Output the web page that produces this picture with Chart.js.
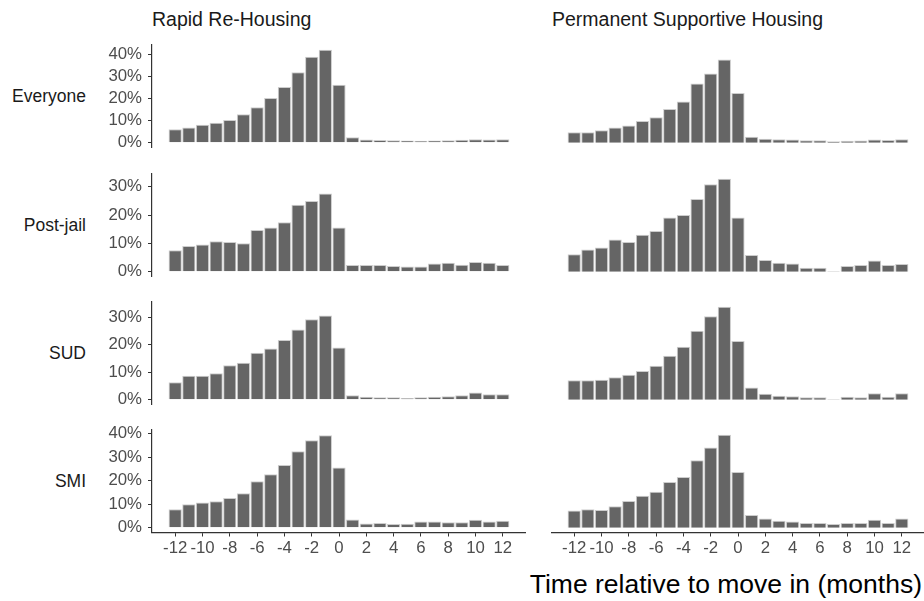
<!DOCTYPE html>
<html>
<head>
<meta charset="utf-8">
<title>Time relative to move in</title>
<script src="https://cdn.jsdelivr.net/npm/chart.js@4.4.1/dist/chart.umd.min.js"></script>
<style>
  html, body {
    margin: 0;
    padding: 0;
    width: 924px;
    height: 601px;
    overflow: hidden;
    background: #ffffff;
    font-family: "Liberation Sans", Arial, sans-serif;
  }
  canvas { position: absolute; }
  .lbl { position: absolute; white-space: nowrap; line-height: 1; }
  .col { font-size: 19.5px; color: #1a1a1a; }
  .row { font-size: 17.5px; color: #1a1a1a; left: 0; width: 86px; text-align: right; }
  .xtitle { font-size: 26.5px; color: #000; left: 0; width: 922px; text-align: right; top: 571px; }
</style>
</head>
<body>

<div class="lbl col" style="left:152px; top:10px;">Rapid Re-Housing</div>
<div class="lbl col" style="left:552px; top:10px;">Permanent Supportive Housing</div>
<div class="lbl row" id="row0">Everyone</div>
<div class="lbl row" id="row1">Post-jail</div>
<div class="lbl row" id="row2">SUD</div>
<div class="lbl row" id="row3">SMI</div>
<div class="lbl xtitle">Time relative to move in (months)</div>

<canvas id="c00"></canvas>
<canvas id="c01"></canvas>
<canvas id="c10"></canvas>
<canvas id="c11"></canvas>
<canvas id="c20"></canvas>
<canvas id="c21"></canvas>
<canvas id="c30"></canvas>
<canvas id="c31"></canvas>

<script>
// months relative to move in
var months = [-12, -11, -10, -9, -8, -7, -6, -5, -4, -3, -2, -1, 0, 1, 2, 3, 4, 5, 6, 7, 8, 9, 10, 11, 12];
var xTicks = [-12, -10, -8, -6, -4, -2, 0, 2, 4, 6, 8, 10, 12];

// percent of people, one list per panel
var rrhEveryone = [6.1, 6.9, 8.2, 9.0, 10.3, 12.9, 16.0, 20.2, 25.2, 31.8, 38.8, 42.0, 26.2, 2.5, 1.5, 1.3, 1.2, 1.1, 0.9, 1.1, 1.2, 1.4, 1.6, 1.5, 1.6];
var pshEveryone = [4.8, 4.8, 5.7, 6.9, 7.8, 9.9, 11.5, 15.3, 18.6, 26.7, 31.2, 37.6, 22.5, 2.7, 1.9, 1.6, 1.5, 1.2, 1.2, 0.7, 0.9, 1.0, 1.5, 1.3, 1.6];
var rrhPostJail = [7.6, 9.1, 9.6, 10.8, 10.5, 10.1, 14.7, 15.6, 17.5, 23.6, 24.9, 27.6, 15.6, 2.4, 2.4, 2.4, 2.1, 1.9, 1.9, 2.9, 3.2, 2.5, 3.5, 3.2, 2.4];
var pshPostJail = [6.2, 7.9, 8.6, 11.4, 10.5, 13.1, 14.4, 19.1, 20.0, 25.6, 30.8, 32.8, 19.1, 5.9, 4.2, 3.2, 2.9, 1.4, 1.4, 0.2, 2.1, 2.4, 4.0, 2.4, 2.8];
var rrhSud = [6.4, 8.8, 8.8, 9.7, 12.6, 13.5, 17.1, 18.7, 21.8, 25.6, 29.3, 30.7, 19.0, 1.7, 1.1, 0.9, 0.9, 0.7, 0.9, 1.1, 1.3, 1.7, 2.7, 2.0, 2.0];
var pshSud = [7.1, 7.1, 7.3, 8.2, 9.1, 10.5, 12.4, 16.0, 19.3, 25.1, 30.4, 33.9, 21.4, 4.5, 2.2, 1.5, 1.3, 0.9, 0.9, 0.2, 1.1, 0.9, 2.4, 1.1, 2.4];
var rrhSmi = [7.9, 10.0, 10.7, 11.3, 12.7, 14.7, 19.8, 22.7, 26.6, 32.5, 37.1, 39.3, 25.6, 3.5, 1.8, 2.1, 1.6, 1.7, 2.7, 2.7, 2.4, 2.4, 3.4, 2.7, 3.0];
var pshSmi = [7.3, 7.9, 7.6, 9.2, 11.4, 13.6, 15.3, 19.4, 21.6, 28.7, 34.1, 39.5, 23.7, 5.4, 4.0, 3.0, 2.7, 2.1, 2.1, 1.6, 2.1, 2.1, 3.4, 2.1, 4.0];

// y tick labels per row
var yTicksEveryone = [0, 10, 20, 30, 40];
var yTicksPostJail = [0, 10, 20, 30];
var yTicksSud = [0, 10, 20, 30];
var yTicksSmi = [0, 10, 20, 30, 40];

var rows = [
  [rrhEveryone, pshEveryone, yTicksEveryone],
  [rrhPostJail, pshPostJail, yTicksPostJail],
  [rrhSud, pshSud, yTicksSud],
  [rrhSmi, pshSmi, yTicksSmi]
];

// panel layout (pixels)
var colLeft = [152, 551];
var panelW = 374;
var rowTop = [45, 173.5, 302, 430];
var panelH = 102.5;
var yAxisW = 60;
var xAxisH = 40;
var pad = 20;

var axisColor = '#333333';
var tickColor = '#4d4d4d';
var fontFamily = '"Liberation Sans", Arial, sans-serif';

function makePanel(r, c) {
  var values = rows[r][c];
  var yTicks = rows[r][2];
  var rowMax = Math.max(Math.max.apply(null, rows[r][0]), Math.max.apply(null, rows[r][1]));
  var showY = c === 0;
  var showX = r === rows.length - 1;

  var canvas = document.getElementById('c' + r + c);
  var w = panelW + (showY ? yAxisW : 0);
  var h = Math.round(panelH + 2 * pad + (showX ? xAxisH : 0));
  canvas.width = w;
  canvas.height = h;
  canvas.style.left = (colLeft[c] - (showY ? yAxisW : 0)) + 'px';
  canvas.style.top = (rowTop[r] - pad) + 'px';

  var ctx = canvas.getContext('2d');

  var config = {
    type: 'bar',
    data: {
      labels: months,
      datasets: [{
        data: values,
        backgroundColor: '#656565',
        borderColor: '#cdcdcd',
        borderWidth: 1,
        categoryPercentage: 1,
        barPercentage: 0.97
      }]
    },
    options: {
      responsive: false,
      animation: false,
      layout: { padding: { top: pad, bottom: h - pad - panelH - (showX ? xAxisH : 0), left: 0, right: 0 } },
      plugins: {
        legend: { display: false },
        tooltip: { enabled: false }
      },
      scales: {
        x: {
          type: 'linear',
          display: showX,
          offset: false,
          min: -13.7,
          max: 13.7,
          afterBuildTicks: function (scale) {
            scale.ticks = xTicks.map(function (v) { return { value: v }; });
          },
          afterFit: function (scale) {
            scale.height = showX ? xAxisH : 0;
          },
          grid: {
            offset: false,
            drawOnChartArea: false,
            drawTicks: true,
            tickLength: 4,
            color: axisColor
          },
          border: { display: true, color: axisColor, width: 1.2 },
          ticks: {
            autoSkip: false,
            maxRotation: 0,
            padding: 2,
            color: tickColor,
            font: { family: fontFamily, size: 16.8 },
            callback: function (v) { return String(v); }
          }
        },
        y: {
          display: showY,
          min: -0.05 * rowMax,
          max: 1.05 * rowMax,
          afterBuildTicks: function (scale) {
            scale.ticks = yTicks.map(function (v) { return { value: v }; });
          },
          afterFit: function (scale) {
            scale.width = showY ? yAxisW : 0;
          },
          grid: {
            drawOnChartArea: false,
            drawTicks: true,
            tickLength: 4,
            color: axisColor
          },
          border: { display: true, color: axisColor, width: 1.2 },
          ticks: {
            autoSkip: false,
            padding: 6,
            color: tickColor,
            font: { family: fontFamily, size: 16.8 },
            callback: function (v) { return v + '%'; }
          }
        }
      }
    }
  };

  return new Chart(ctx, config);
}

for (var r = 0; r < rows.length; r++) {
  var lbl = document.getElementById('row' + r);
  lbl.style.top = (rowTop[r] + panelH / 2 + 0.75 - 0.4885 * 17.5) + 'px';
  for (var c = 0; c < 2; c++) {
    makePanel(r, c);
  }
}
</script>
</body>
</html>
